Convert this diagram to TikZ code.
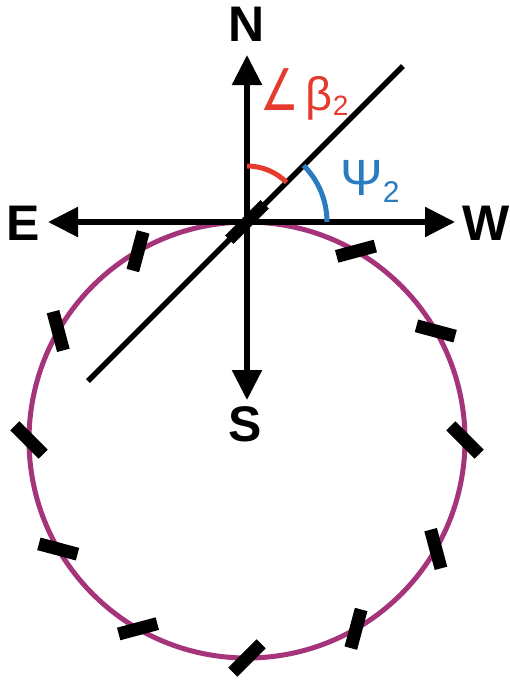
\documentclass[tikz,border=0pt]{standalone}
\usepackage{fontspec}
\setmainfont{Liberation Sans}
\newfontfamily\dejavu{DejaVu Sans}
\usetikzlibrary{arrows.meta,calc}
\definecolor{ringcol}{RGB}{166,52,122}
\definecolor{betacol}{RGB}{229,58,46}
\definecolor{psicol}{RGB}{43,123,192}
\tikzset{
  axis/.style={line width=5.5pt,-{Triangle[length=30pt,width=29pt]}},
  dirlabel/.style={font=\fontsize{50}{60}\selectfont\bfseries,inner sep=0pt},
  sensor/.style={fill=black,minimum width=40pt,minimum height=13pt,inner sep=0pt,outer sep=0pt},
}
\begin{document}
\begin{tikzpicture}[x=1pt,y=-1pt]
\useasboundingbox (0,0) rectangle (510,681);
\fill[white] (0,0) rectangle (510,681);
\coordinate (O) at (247,222);
\coordinate (C) at (247,440);
\coordinate (tipN) at (247,55);
\coordinate (tipS) at (247,400);
\coordinate (tipE) at (48,222);
\coordinate (tipW) at (455,222);
\coordinate (l1) at (88,381);
\coordinate (l2) at (403,66);
% ring
\draw[ringcol,line width=5pt] (C) circle[radius=218];
% sensors
\foreach \t in {0,30,60,120,150,180,210,240,270,300,330}{
  \node[sensor,rotate=\t-45] (s\t) at ({247+218*cos(\t)},{440-218*sin(\t)}) {};
}
\node[sensor,rotate=45,minimum width=50pt,minimum height=12pt] (s90) at (O) {};
% axes
\draw[axis] (O) -- (tipN);
\draw[axis] (O) -- (tipS);
\draw[axis] (O) -- (tipE);
\draw[axis] (O) -- (tipW);
% inclined line
\draw[line width=5.5pt] (l1) -- (l2);
% angle arcs
\draw[betacol,line width=5pt] ($(O)+(0,-56)$) arc[start angle=-90,end angle=-45,radius=56];
\draw[psicol,line width=5pt] (O) ++(-45:80) arc[start angle=-45,end angle=0,radius=80];
% labels
\node[dirlabel] (N) at (247,24) {N};
\node[dirlabel] (E) at (23,223) {E};
\node[dirlabel] (W) at (486,223) {W};
\node[dirlabel] (S) at (245,424) {S};
\node[anchor=base west,inner sep=0pt,text=betacol] (beta) at (260,110)
  {\scalebox{1.05}[1.4]{\dejavu\fontsize{41}{48}\selectfont ∠}\hspace{7pt}{\fontsize{47}{54}\selectfont β}{\fontsize{28}{30}\selectfont\raisebox{-5pt}{2}}};
\node[anchor=base west,inner sep=0pt,text=psicol] (psi) at (340,195)
  {{\fontsize{51}{60}\selectfont Ψ}{\fontsize{30}{34}\selectfont\raisebox{-7pt}{2}}};
\end{tikzpicture}
\end{document}
